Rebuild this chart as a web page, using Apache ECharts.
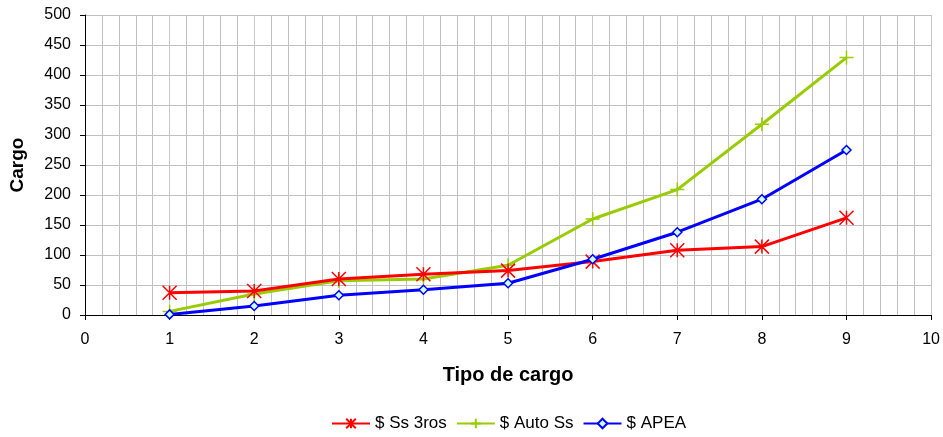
<!DOCTYPE html>
<html>
<head>
<meta charset="utf-8">
<script src="https://cdn.jsdelivr.net/npm/echarts@6/dist/echarts.min.js"></script>
<style>
html,body{margin:0;padding:0;background:#fff;}
#chart{width:943px;height:437px;}
</style>
</head>
<body>
<div id="chart"></div>
<script>
var xValues = [1, 2, 3, 4, 5, 6, 7, 8, 9];
var ss3ros = [37, 40, 60, 68, 74, 89, 108, 114, 162];
var autoSs = [6, 35, 57, 60, 83, 160, 209, 318, 429];
var apea = [1, 15, 33, 42, 53, 93, 138, 193, 275];
var seriesNames = ['$ Ss 3ros', '$ Auto Ss', '$ APEA'];

function pairs(vals) {
	return vals.map(function(v, i) { return [xValues[i], v]; });
}

var starPath = 'path://M0,0L10,10M10,0L0,10M5,0L5,10';
var plusPath = 'path://M5,0L5,10M0,5L10,5';
var fontFam = '"Liberation Sans", Arial, sans-serif';

var myChart = echarts.init(document.getElementById('chart'));
var option = {
	animation: false,
	textStyle: { fontFamily: fontFam },
	grid: { left: 85, right: 8, top: 15, bottom: 122 },
	legend: {
		bottom: 0,
		left: 326,
		itemWidth: 38,
		itemHeight: 12,
		itemGap: 9,
		textStyle: { color: '#000', fontSize: 17, fontFamily: fontFam },
		data: seriesNames
	},
	xAxis: {
		type: 'value',
		min: 0, max: 10, interval: 1,
		name: 'Tipo de cargo',
		nameLocation: 'middle',
		nameGap: 50,
		nameTextStyle: { fontWeight: 'bold', fontSize: 20, color: '#000' },
		axisLine: { show: true, onZero: false, lineStyle: { color: '#000', width: 1 } },
		axisTick: { show: true, length: 5, lineStyle: { color: '#000' } },
		axisLabel: { color: '#000', fontSize: 16, margin: 17 },
		splitLine: { show: true, lineStyle: { color: '#c8c8c8', width: 1 } },
		minorTick: { show: false, splitNumber: 5 },
		minorSplitLine: { show: true, lineStyle: { color: '#c0c0c0', width: 1 } }
	},
	yAxis: {
		type: 'value',
		min: 0, max: 500, interval: 50,
		name: 'Cargo',
		nameLocation: 'middle',
		nameGap: 58,
		nameTextStyle: { fontWeight: 'bold', fontSize: 19, color: '#000' },
		axisLine: { show: true, lineStyle: { color: '#000', width: 1 } },
		axisTick: { show: true, length: 5, lineStyle: { color: '#000' } },
		axisLabel: { color: '#000', fontSize: 16, margin: 14 },
		splitLine: { show: true, lineStyle: { color: '#c0c0c0', width: 1 } }
	},
	series: [
		{
			name: seriesNames[0],
			type: 'line',
			data: pairs(ss3ros),
			symbol: starPath,
			symbolSize: 14,
			lineStyle: { color: '#ff0000', width: 3 },
			itemStyle: { color: '#ff0000', borderColor: '#ff0000', borderWidth: 1.5 },
			z: 3
		},
		{
			name: seriesNames[1],
			type: 'line',
			data: pairs(autoSs),
			symbol: plusPath,
			symbolSize: 14,
			lineStyle: { color: '#99cc00', width: 3 },
			itemStyle: { color: '#99cc00', borderColor: '#99cc00', borderWidth: 1.5 },
			z: 2
		},
		{
			name: seriesNames[2],
			type: 'line',
			data: pairs(apea),
			symbol: 'diamond',
			symbolSize: 9,
			lineStyle: { color: '#0000ff', width: 3 },
			itemStyle: { color: '#ccffff', borderColor: '#0000ff', borderWidth: 1.5 },
			z: 4
		}
	]
};
myChart.setOption(option);
</script>
</body>
</html>
